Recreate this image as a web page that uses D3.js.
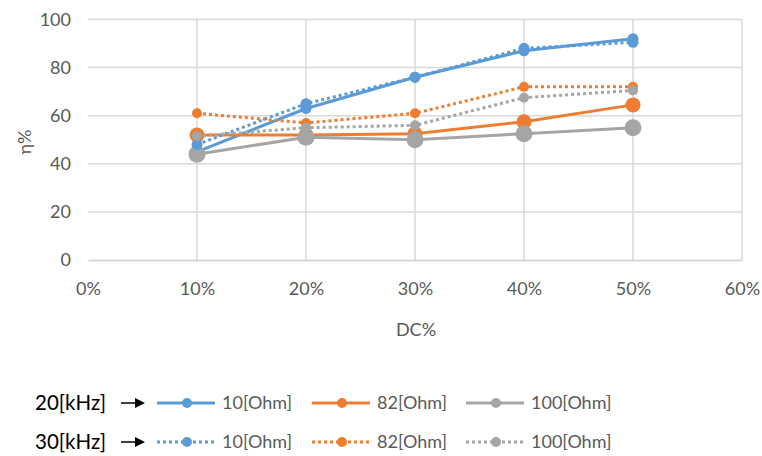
<!DOCTYPE html>
<html>
<head>
<meta charset="utf-8">
<script src="https://cdn.jsdelivr.net/npm/d3@7"></script>
<style>
  html, body { margin: 0; padding: 0; background: #fff; }
  svg { display: block; font-family: Lato, "Open Sans", sans-serif; }
</style>
</head>
<body>
<svg id="chart" width="762" height="456"></svg>
<script>
// Duty cycle levels (x) and efficiency readings (y, %)
const dutyCycles = [0.1, 0.2, 0.3, 0.4, 0.5];
const eff20k_10ohm  = [45, 63, 76, 87, 92];
const eff20k_82ohm  = [52, 52, 52.5, 57.5, 64.5];
const eff20k_100ohm = [44, 51, 50, 52.5, 55];
const eff30k_10ohm  = [48, 65, 76, 88, 90.5];
const eff30k_82ohm  = [61, 57, 61, 72, 72];
const eff30k_100ohm = [51.5, 55, 56, 67.5, 70.5];

const xTicks = [0, 0.1, 0.2, 0.3, 0.4, 0.5, 0.6];
const yTicks = [0, 20, 40, 60, 80, 100];
const loadLabels = ["10[Ohm]", "82[Ohm]", "100[Ohm]"];
const freqLabels = ["20[kHz]", "30[kHz]"];

const colors = ["#5B9BD5", "#ED7D31", "#A5A5A5"];
const solidMarkerR = [5.5, 7.5, 8.5];
const dotMarkerR = [5.5, 5, 5];

const series = [
  { values: eff20k_10ohm,  c: 0, dotted: false },
  { values: eff20k_82ohm,  c: 1, dotted: false },
  { values: eff20k_100ohm, c: 2, dotted: false },
  { values: eff30k_10ohm,  c: 0, dotted: true },
  { values: eff30k_82ohm,  c: 1, dotted: true },
  { values: eff30k_100ohm, c: 2, dotted: true }
];

const svg = d3.select("#chart");
const x = d3.scaleLinear().domain([0, 0.6]).range([88, 742]);
const y = d3.scaleLinear().domain([0, 100]).range([260, 19.5]);

// gridlines
const grid = svg.append("g");
grid.selectAll("line.h").data(yTicks.slice(1)).join("line")
  .attr("x1", x(0)).attr("x2", x(0.6))
  .attr("y1", d => y(d)).attr("y2", d => y(d))
  .attr("stroke", "#D9D9D9").attr("stroke-width", 1.5);
grid.selectAll("line.v").data(xTicks.slice(1)).join("line")
  .attr("x1", d => x(d)).attr("x2", d => x(d))
  .attr("y1", y(0)).attr("y2", y(100))
  .attr("stroke", "#D9D9D9").attr("stroke-width", 1.5);

// axes
const xAxis = svg.append("g").attr("transform", `translate(0,${y(0)})`)
  .call(d3.axisBottom(x).tickValues(xTicks).tickFormat(d3.format(".0%")).tickSize(0).tickPadding(22));
xAxis.select(".domain").attr("stroke", "#D0D0D0").attr("stroke-width", 1.5);
xAxis.selectAll("text").attr("fill", "#595959").attr("font-size", 18).attr("font-family", "Lato, sans-serif");

const yAxis = svg.append("g").attr("transform", `translate(${x(0)},0)`)
  .call(d3.axisLeft(y).tickValues(yTicks).tickSize(0).tickPadding(17));
yAxis.select(".domain").remove();
yAxis.selectAll("text").attr("fill", "#595959").attr("font-size", 18).attr("font-family", "Lato, sans-serif");

// axis titles
svg.append("text").attr("x", 416).attr("y", 336).attr("text-anchor", "middle")
  .attr("fill", "#595959").attr("font-size", 18).text("DC%");
svg.append("text").attr("transform", "translate(31,142) rotate(-90)").attr("text-anchor", "middle")
  .attr("fill", "#595959").attr("font-size", 18).text("η%");

// series lines + markers
const line = d3.line().x((d, i) => x(dutyCycles[i])).y(d => y(d));
series.forEach(s => {
  const g = svg.append("g");
  g.append("path").datum(s.values).attr("d", line)
    .attr("fill", "none").attr("stroke", colors[s.c]).attr("stroke-width", 3)
    .attr("stroke-linejoin", "round")
    .attr("stroke-dasharray", s.dotted ? "3,3" : null);
  g.selectAll("circle").data(s.values).join("circle")
    .attr("cx", (d, i) => x(dutyCycles[i])).attr("cy", d => y(d))
    .attr("r", s.dotted ? dotMarkerR[s.c] : solidMarkerR[s.c])
    .attr("fill", colors[s.c]);
});

// legend
const legendRows = [403, 442];
const sampleX = [157, 312, 466];
const legend = svg.append("g");
svg.append("defs").append("marker").attr("id", "arrowHead")
  .attr("viewBox", "0 0 10 10").attr("refX", 0).attr("refY", 5)
  .attr("markerWidth", 10).attr("markerHeight", 10).attr("markerUnits", "userSpaceOnUse")
  .attr("orient", "auto")
  .append("path").attr("d", "M0,0 L10,5 L0,10 Z").attr("fill", "#000");

freqLabels.forEach((lab, r) => {
  const cy = legendRows[r];
  legend.append("text").attr("x", 35).attr("y", cy).attr("dy", "0.36em")
    .attr("fill", "#000").attr("font-size", 20.5).text(lab);
  legend.append("line").attr("x1", 121).attr("x2", 135).attr("y1", cy).attr("y2", cy)
    .attr("stroke", "#000").attr("stroke-width", 1.5).attr("marker-end", "url(#arrowHead)");
  loadLabels.forEach((ll, c) => {
    const x0 = sampleX[c];
    const dotted = r === 1;
    legend.append("line").attr("x1", x0).attr("x2", x0 + 58).attr("y1", cy).attr("y2", cy)
      .attr("stroke", colors[c]).attr("stroke-width", 3)
      .attr("stroke-dasharray", dotted ? "3,3" : null);
    legend.append("circle").attr("cx", x0 + 30).attr("cy", cy).attr("r", 5).attr("fill", colors[c]);
    legend.append("text").attr("x", x0 + 65).attr("y", cy).attr("dy", "0.36em")
      .attr("fill", "#595959").attr("font-size", 18).text(ll);
  });
});
</script>
</body>
</html>
